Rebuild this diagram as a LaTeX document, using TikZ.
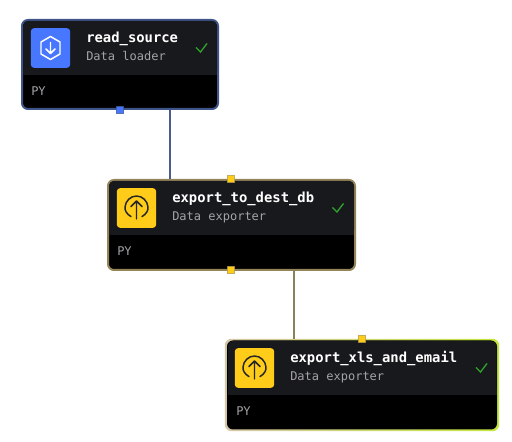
\documentclass[tikz,border=0pt]{standalone}
\usepackage{fontspec}
\setmonofont{DejaVu Sans Mono}
\usetikzlibrary{calc}
\definecolor{hdr}{HTML}{18191D}
\definecolor{bluec}{HTML}{4877FF}
\definecolor{yelc}{HTML}{FFCC19}
\definecolor{bluebd}{HTML}{3F5488}
\definecolor{goldbd}{HTML}{94845A}
\definecolor{tanbd}{HTML}{D6C6A8}
\definecolor{limebd}{HTML}{C4E83A}
\definecolor{greyt}{HTML}{A3A3A8}
\definecolor{okc}{HTML}{2FA32B}
\definecolor{edge1}{HTML}{4A5C8C}
\definecolor{edge2}{HTML}{8C8058}
\tikzset{
 x=0.75pt,y=-0.75pt,
 blockbox/.style={rectangle,rounded corners=4.5pt,inner sep=0,fill=black,line width=1.5pt},
 iconbox/.style={rectangle,rounded corners=2.5pt,inner sep=0,minimum width=29.5pt,minimum height=29.8pt},
 titletxt/.style={anchor=base west,inner sep=0,text=white,font=\ttfamily\bfseries\fontsize{10.4}{12}\selectfont},
 subtxt/.style={anchor=base west,inner sep=0,text=greyt,font=\ttfamily\fontsize{9}{11}\selectfont},
 handle/.style={rectangle,rounded corners=0.3pt,inner sep=0,minimum width=5.4pt,minimum height=5.4pt,line width=0.4pt},
 bluehandle/.style={handle,fill=bluec,draw=bluebd},
 yelhandle/.style={handle,fill=yelc,draw=goldbd!80!yelc},
 okmark/.style={draw=okc,line width=1pt},
 iconline/.style={draw=white,line width=1.1pt,line cap=round,line join=round},
 upline/.style={draw=black!85,line width=1.1pt,line cap=round,line join=round},
}
\newcommand{\headerband}[4]{%
 \fill[hdr,rounded corners=3.6pt] (#1,#2) -- (#3,#2) -- (#3,#4) -- (#1,#4) -- cycle;
 \fill[hdr] (#1,#4-6) rectangle (#3,#4);
}
\begin{document}
\begin{tikzpicture}
\useasboundingbox (0,0) rectangle (512,442);
\fill[white] (0,0) rectangle (512,442);
\coordinate (j1) at (170,0);
\coordinate (j2) at (294,0);
% blocks
\node[blockbox,draw=bluebd,minimum width=147pt,minimum height=66.75pt] (b1) at (120,64.5) {};
\node[blockbox,draw=goldbd,minimum width=185.25pt,minimum height=67.5pt] (b2) at (231.5,225) {};
\shade[left color=tanbd,right color=limebd,middle color=tanbd!50!limebd,rounded corners=5pt] (224.8,338.8) rectangle (499.2,431.2);
\node[blockbox,minimum width=202.5pt,minimum height=66.75pt] (b3) at (362,385) {};
% connectors
\draw[edge1,line width=1.3pt] (j1 |- b1.south) -- (j1 |- b2.north);
\draw[edge2,line width=1.3pt] (j2 |- b2.south) -- (j2 |- b3.north);
% header bands
\headerband{23}{21}{217}{75}
\headerband{109}{181}{354}{235}
\headerband{228}{341}{496.5}{395}
% icons
\node[iconbox,fill=bluec] (i1) at (50.5,48) {};
\node[iconbox,fill=yelc] (i2) at (136.5,208) {};
\node[iconbox,fill=yelc] (i3) at (254.5,368) {};
% hexagon icon
\draw[iconline] ($(i1)+(0,-11.5)$) -- ($(i1)+(9.5,-6)$) -- ($(i1)+(9.5,6)$) -- ($(i1)+(0,11.5)$) -- ($(i1)+(-9.5,6)$) -- ($(i1)+(-9.5,-6)$) -- cycle;
\draw[iconline] ($(i1)+(0,-5.5)$) -- ($(i1)+(0,5.5)$) ($(i1)+(-4.5,1)$) -- ($(i1)+(0,5.5)$) -- ($(i1)+(4.5,1)$);
% upload icons
\foreach \n in {i2,i3}{
 \draw[upline] ($(\n)+(-5.5,8.6)$) .. controls ($(\n)+(-10,6)$) and ($(\n)+(-12,2)$) .. ($(\n)+(-11.5,-1)$) .. controls ($(\n)+(-11,-7)$) and ($(\n)+(-6,-12)$) .. ($(\n)+(0,-12)$) .. controls ($(\n)+(6,-12)$) and ($(\n)+(11,-7)$) .. ($(\n)+(11.5,-1)$) .. controls ($(\n)+(12,2)$) and ($(\n)+(10,6)$) .. ($(\n)+(5.5,8.6)$);
 \draw[upline] ($(\n)+(0,11)$) -- ($(\n)+(0,-7)$) ($(\n)+(-5.5,-1.5)$) -- ($(\n)+(0,-7)$) -- ($(\n)+(5.5,-1.5)$);
}
% texts
\node[titletxt] (t1) at (86,43) {read\_source};
\node[subtxt] (s1) at (86,61) {Data loader};
\node[subtxt] (p1) at (31,95.5) {PY};
\node[titletxt] (t2) at (172,203) {export\_to\_dest\_db};
\node[subtxt] (s2) at (172,221) {Data exporter};
\node[subtxt] (p2) at (117,255.5) {PY};
\node[titletxt] (t3) at (290,363) {export\_xls\_and\_email};
\node[subtxt] (s3) at (290,381) {Data exporter};
\node[subtxt] (p3) at (236,415.5) {PY};
% check marks
\draw[okmark] (196,47.5) -- (200.5,52) -- (207,43.5);
\draw[okmark] (332.5,207.5) -- (337,212) -- (343.5,203.5);
\draw[okmark] (476,367.5) -- (480.5,372) -- (487,363.5);
% handles
\node[bluehandle] (h1) at (120,110) {};
\node[yelhandle] (h2) at (231,179) {};
\node[yelhandle] (h3) at (231,270) {};
\node[yelhandle] (h4) at (362,339) {};
\end{tikzpicture}
\end{document}
